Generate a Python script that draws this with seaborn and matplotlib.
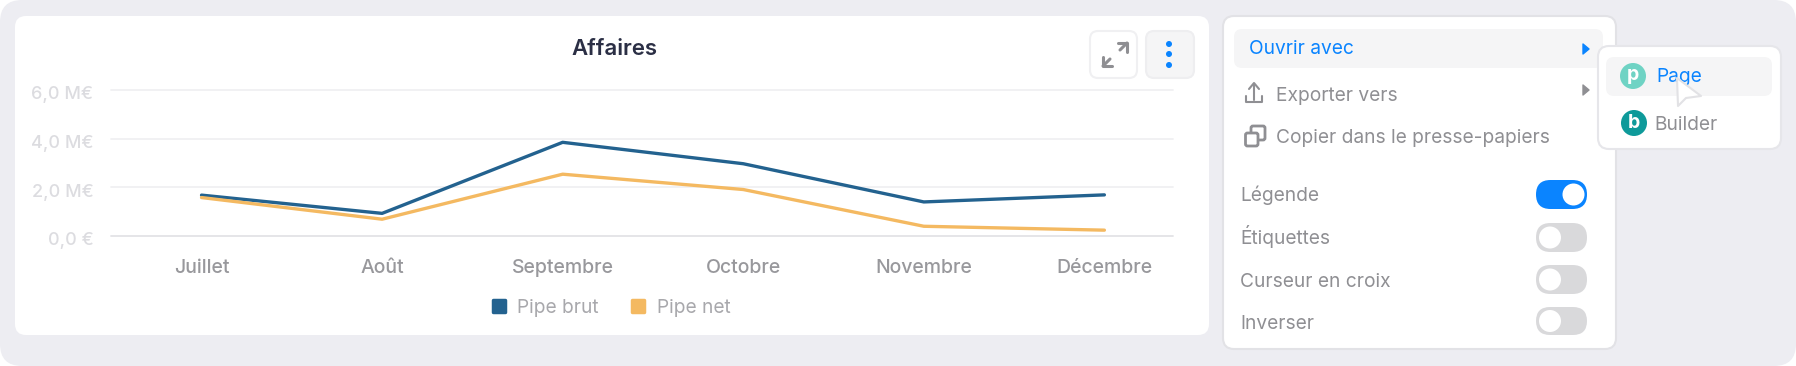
import matplotlib
matplotlib.use('Agg')
import matplotlib.pyplot as plt
import pandas as pd
import seaborn as sns
from matplotlib.lines import Line2D
from matplotlib.markers import MarkerStyle
from matplotlib.patches import Circle, FancyBboxPatch, Polygon
from matplotlib.transforms import ScaledTranslation

months = ['Juillet', 'Août', 'Septembre', 'Octobre', 'Novembre', 'Décembre']
pipe_brut = [1.68, 0.93, 3.85, 2.97, 1.40, 1.69]
pipe_net = [1.58, 0.69, 2.54, 1.91, 0.40, 0.24]
y_ticks = [0, 2, 4, 6]
y_tick_labels = ['0,0 €', '2,0 M€', '4,0 M€', '6,0 M€']
series_colors = {'Pipe brut': '#23628F', 'Pipe net': '#F4B961'}

W, H = 1796, 366
BLUE = '#0A84FF'
GREY = '#8F8F93'

sns.set_theme(style='white')
plt.rcParams['font.family'] = ['Inter', 'DejaVu Sans']

fig = plt.figure(figsize=(W / 100, H / 100), dpi=100, facecolor='white')

# page background and ui chrome, in pixel coordinates
bg = fig.add_axes([0, 0, 1, 1], zorder=0)
bg.set_xlim(0, W)
bg.set_ylim(H, 0)
bg.axis('off')


def box(x0, y0, x1, y1, r, fc, ec='none', lw=1.0, z=1):
    p = FancyBboxPatch((x0 + r, y0 + r), x1 - x0 - 2 * r, y1 - y0 - 2 * r,
                       boxstyle=f'round,pad={r},rounding_size={r}',
                       fc=fc, ec=ec, lw=lw, zorder=z)
    bg.add_patch(p)


# y is the text baseline
def label(x, y, s, color=GREY, size=13.8, weight='normal', ha='left', z=5):
    bg.text(x, y, s, color=color, fontsize=size, fontweight=weight, ha=ha, va='baseline', zorder=z)


box(0, 0, W, H, 22, '#EDEDF2')
box(15, 16, 1209, 335, 11, 'white')

# top right buttons of the card
box(1090, 31, 1137, 78, 8, 'white', '#F0F0F2', 1.5, 2)
box(1146, 31, 1194, 78, 8, '#F5F5F6', '#EEEEF0', 1.5, 2)
for cy in [44, 54, 65]:
    bg.add_patch(Circle((1169, cy), 3, fc=BLUE, ec='none', zorder=3))
bg.add_line(Line2D((1118, 1127, 1127), (43, 43, 52), color=GREY, lw=2.2, zorder=3))
bg.add_line(Line2D((1103, 1103, 1112), (57, 66, 66), color=GREY, lw=2.2, zorder=3))
bg.add_line(Line2D((1127, 1120), (43, 50), color=GREY, lw=2.2, zorder=3))
bg.add_line(Line2D((1103, 1110), (66, 59), color=GREY, lw=2.2, zorder=3))

# options menu
box(1223, 16, 1616, 349, 11, 'white', '#E2E2E6', 1.5, 2)
box(1234, 29, 1603, 68, 8, '#F5F5F6', z=3)
label(1249, 54.3, 'Ouvrir avec', BLUE)
label(1276, 101, 'Exporter vers')
label(1276, 142.7, 'Copier dans le presse-papiers')
bg.add_patch(Polygon([(1583, 44), (1589, 49), (1583, 54)], fc=BLUE, ec=BLUE, lw=1, joinstyle='round', zorder=5))
bg.add_patch(Polygon([(1583, 85), (1589, 90), (1583, 95)], fc=GREY, ec=GREY, lw=1, joinstyle='round', zorder=5))

# export icon
bg.add_line(Line2D((1254, 1254), (84, 100), color=GREY, lw=1.5, zorder=5))
bg.add_line(Line2D((1249, 1254, 1259), (89, 83, 89), color=GREY, lw=1.5, zorder=5))
bg.add_line(Line2D((1245.5, 1245.5, 1262, 1262), (96, 102, 102, 96), color=GREY, lw=1.5, zorder=5))
# copy icon
box(1251, 126, 1265, 140, 2, 'none', GREY, 2, 4)
box(1245.5, 133, 1258, 146, 2, 'white', GREY, 2, 5)

toggle_names = ['Légende', 'Étiquettes', 'Curseur en croix', 'Inverser']
toggle_baselines = [201, 244, 286.7, 329]
toggle_rows = [(180, 209), (223, 252), (265, 294), (307, 335)]
for i, (name, (y0, y1)) in enumerate(zip(toggle_names, toggle_rows)):
    label(1240.5, toggle_baselines[i], name)
    on = i == 0
    box(1536, y0, 1587, y1, (y1 - y0) / 2, BLUE if on else '#D9D9DB', z=3)
    bg.add_patch(Circle((1573.5 if on else 1550, (y0 + y1) / 2), 11, fc='white', ec='none', zorder=4))

# submenu
box(1598, 46, 1781, 149, 11, 'white', '#E6E6EA', 1.5, 6)
box(1606, 57, 1772, 96, 8, '#F5F5F6', z=7)
bg.add_patch(Circle((1633, 76), 13, fc='#6FD3C4', ec='none', zorder=8))
bg.add_patch(Circle((1634, 123), 13, fc='#0E9A9A', ec='none', zorder=8))
label(1633, 80, 'p', 'white', 14, 'bold', 'center', 9)
label(1634, 128.5, 'b', 'white', 14, 'bold', 'center', 9)
label(1656, 82.3, 'Page', BLUE, z=9)
label(1654.5, 130, 'Builder', z=9)

# mouse pointer on top of the submenu
bg.add_patch(Polygon([(1677, 78), (1701, 96), (1686, 98), (1678, 106)], fc='white', ec='#E2E2E5',
                     lw=1.5, joinstyle='round', zorder=10))

# chart
df = pd.DataFrame({'mois': months, 'Pipe brut': pipe_brut, 'Pipe net': pipe_net})
df = df.melt(id_vars='mois', var_name='serie', value_name='valeur')

ax = fig.add_axes([110.7 / W, 1 - 236 / H, (1173 - 110.7) / W, 146 / H], zorder=1)
ax.patch.set_alpha(0)
sns.lineplot(data=df, x='mois', y='valeur', hue='serie', palette=series_colors, sort=False,
             linewidth=2.4, ax=ax, legend=False, zorder=3)
ax.set_xlim(-0.503, 5.38)
ax.set_ylim(0, 6)
ax.set_xlabel('')
ax.set_ylabel('')
ax.set_yticks(y_ticks)
ax.set_yticklabels(y_tick_labels, color='#DCDCE0', fontsize=13, fontweight='medium')
ax.set_xticks(range(len(months)))
ax.set_xticklabels(months, color='#98989C', fontsize=14, fontweight='medium')
ax.tick_params(axis='y', length=0, pad=12.5)
ax.tick_params(axis='x', length=0, pad=26.4)
for t in ax.get_xticklabels():
    t.set_va('baseline')
# y labels sit below their grid line in the original
down = ScaledTranslation(0, -9.3 / 100, fig.dpi_scale_trans)
for t in ax.get_yticklabels():
    t.set_va('baseline')
    t.set_transform(t.get_transform() + down)
ax.yaxis.grid(True, color='#F0F0F2', lw=1.3)
for g in ax.get_ygridlines():
    g.set_clip_on(False)
ax.get_ygridlines()[0].set_color('#E3E3E6')
sns.despine(ax=ax, left=True, bottom=True)

fig.text(614 / W, 1 - 55 / H, 'Affaires', color='#2B2F45', fontsize=16, fontweight='semibold',
         ha='center', va='baseline')

square = MarkerStyle('s', joinstyle='round')
handles = [Line2D([], [], ls='none', marker=square, ms=8.5, mew=2.5, color=c, label=n)
           for n, c in series_colors.items()]
fig.legend(handles=handles, loc='center', bbox_to_anchor=(610 / W, 1 - 308 / H), ncol=2, frameon=False,
           fontsize=13.8, labelcolor='#A8A8AC', columnspacing=1.56, handletextpad=0.47, handlelength=1,
           borderpad=0)

fig.savefig('out.png', dpi=100, facecolor='white')
